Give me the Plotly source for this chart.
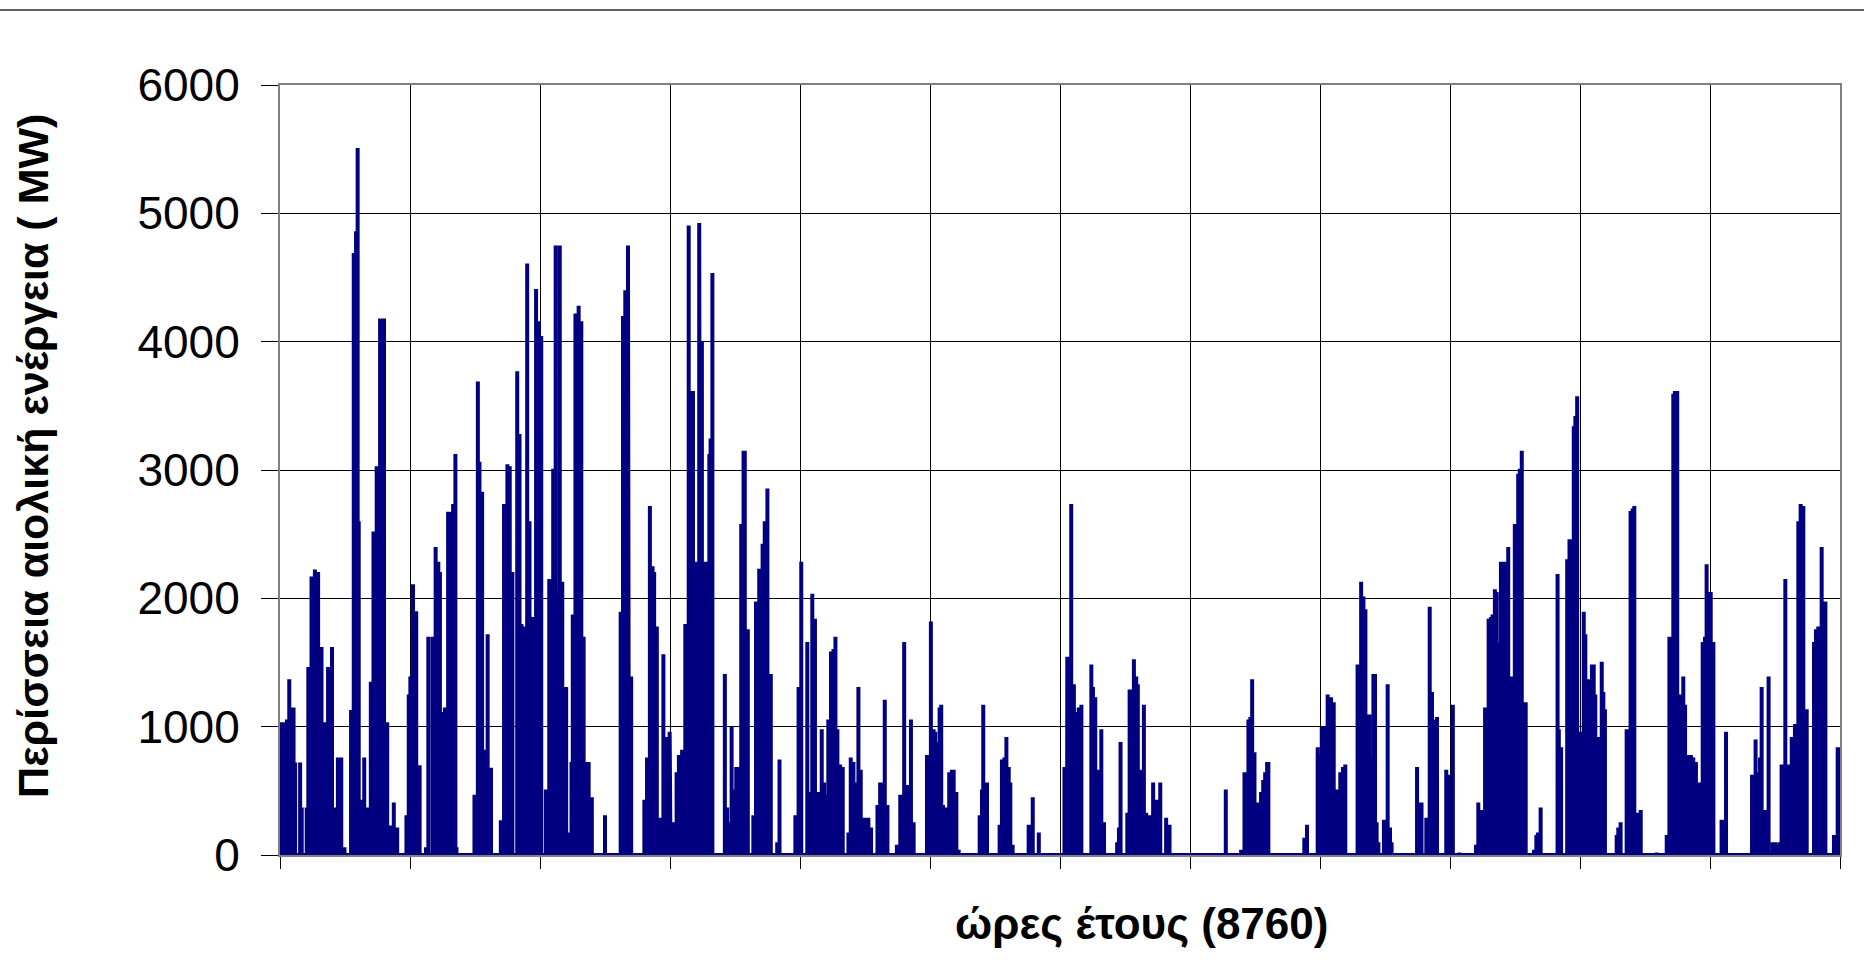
import plotly.graph_objects as go

# Hourly excess wind energy over the year (hour of year, MW), grouped by period.
readings_1 = [(0, 310), (11, 1035), (30, 1035), (39, 1055), (52, 1370), (67, 1150), (76, 1150), (85, 720),
              (113, 720), (122, 370), (150, 370), (159, 1465), (177, 2170), (196, 2225), (214, 2205), (233, 1620),
              (251, 1035), (270, 1465), (292, 1620), (307, 370), (325, 760), (344, 760), (362, 60), (399, 1130),
              (414, 4690), (427, 4860), (436, 5510), (442, 2600), (455, 430), (473, 760), (492, 370), (510, 1350),
              (525, 2520), (543, 3030), (562, 4180), (584, 4180), (602, 1035), (621, 230), (639, 410), (658, 215),
              (710, 310), (723, 1250), (732, 1390), (747, 2110), (765, 1900), (784, 700), (820, 60), (833, 1700),
              (857, 1700), (874, 2400), (889, 2285), (898, 2205), (907, 1115), (926, 1150), (944, 2675), (963, 2675),
              (972, 2735), (985, 3125), (991, 60), (1092, 470), (1111, 3690), (1120, 3065), (1135, 2830), (1148, 820),
              (1166, 1720), (1185, 680), (1240, 270), (1258, 2735), (1277, 3045), (1290, 3030), (1305, 2205),
              (1332, 3770), (1345, 3280), (1356, 1800), (1375, 1780), (1388, 4610), (1401, 2600), (1416, 1855),
              (1438, 4410), (1453, 4160), (1467, 4045)]

readings_2 = [(1493, 510), (1512, 2150), (1526, 510), (1534, 3010), (1548, 4750), (1558, 2035), (1571, 4750),
              (1585, 2130), (1595, 725), (1607, 1310), (1622, 175), (1637, 725), (1644, 1875), (1659, 4220),
              (1677, 4280), (1692, 4160), (1705, 1700), (1718, 725), (1733, 725), (1751, 450), (1825, 310),
              (1913, 1895), (1926, 4200), (1939, 4400), (1954, 4750), (1959, 115), (1972, 1390), (2046, 430),
              (2061, 760), (2077, 2720), (2092, 2250), (2101, 2205), (2116, 1780), (2129, 275), (2138, 290),
              (2153, 1565), (2166, 920), (2175, 665), (2188, 960), (2193, 255), (2212, 255), (2227, 645), (2240, 780),
              (2258, 820), (2276, 1800), (2295, 4905), (2304, 3615), (2319, 3615), (2341, 2285), (2354, 4925),
              (2359, 4650), (2369, 4000), (2378, 2285), (2393, 2285), (2405, 40), (2411, 3125), (2418, 3245),
              (2428, 4535), (2498, 1410), (2511, 370), (2525, 255), (2536, 1000), (2549, 510), (2562, 685),
              (2571, 685), (2590, 2580), (2603, 3150), (2610, 3150), (2617, 1760), (2627, 1760), (2658, 310),
              (2673, 1975), (2691, 2230), (2700, 2230), (2710, 2425), (2722, 2600), (2737, 2855), (2746, 1410),
              (2756, 1410), (2792, 100), (2805, 745), (2894, 310), (2912, 1310), (2927, 2285)]

readings_3 = [(2961, 1660), (2976, 490), (2989, 2035), (3004, 1840), (3018, 490), (3029, 490), (3042, 980),
              (3055, 565), (3066, 470), (3079, 1055), (3094, 1585), (3108, 1605), (3119, 1700), (3130, 980),
              (3145, 705), (3160, 685), (3192, 175), (3205, 760), (3220, 725), (3235, 565), (3248, 1310), (3261, 665),
              (3276, 290), (3291, 290), (3304, 290), (3319, 215), (3355, 390), (3370, 565), (3385, 565), (3396, 1210),
              (3411, 390), (3464, 80), (3483, 470), (3492, 470), (3505, 1660), (3520, 545), (3529, 545), (3543, 1055),
              (3558, 255), (3633, 780), (3642, 780), (3655, 1820), (3670, 980), (3679, 960), (3689, 880),
              (3704, 1150), (3713, 1170), (3723, 390), (3736, 370), (3745, 290), (3758, 645), (3773, 665),
              (3783, 665), (3798, 490), (3811, 40), (3929, 310), (3942, 510), (3949, 1170), (3961, 565), (3970, 565),
              (4041, 235), (4054, 745), (4068, 760), (4079, 920), (4092, 685), (4101, 565), (4114, 80), (4204, 235),
              (4214, 235), (4227, 450), (4261, 175), (4405, 685), (4420, 920)]

readings_4 = [(4421, 1545), (4434, 1350), (4443, 2735), (4458, 1330), (4471, 1115), (4485, 1150), (4500, 1170),
              (4556, 1485), (4565, 1310), (4578, 1230), (4589, 665), (4602, 665), (4612, 980), (4627, 255),
              (4701, 100), (4711, 215), (4720, 880), (4758, 330), (4771, 1290), (4784, 1290), (4795, 1525),
              (4808, 1390), (4817, 1330), (4830, 665), (4842, 665), (4851, 1170), (4864, 330), (4877, 310),
              (4892, 310), (4903, 565), (4915, 430), (4930, 430), (4943, 565), (4976, 290), (4995, 235), (5311, 510),
              (5397, 40), (5416, 645), (5425, 645), (5438, 1055), (5449, 1075), (5459, 1370), (5472, 800),
              (5491, 410), (5500, 410), (5509, 490), (5521, 585), (5532, 645), (5543, 725), (5550, 725), (5752, 135),
              (5767, 235), (5827, 840), (5837, 780), (5850, 1000), (5865, 1000), (5883, 1250), (5902, 1230),
              (5917, 1190)]

readings_5 = [(5939, 510), (5954, 645), (5969, 685), (5982, 705), (6051, 1485), (6062, 1485), (6071, 2130),
              (6084, 2015), (6095, 1915), (6106, 1095), (6117, 1095), (6131, 760), (6140, 1410), (6149, 1410),
              (6158, 255), (6168, 100), (6199, 275), (6210, 275), (6220, 1330), (6233, 215), (6242, 100), (6385, 685),
              (6400, 410), (6410, 410), (6437, 290), (6447, 290), (6456, 1935), (6469, 1270), (6484, 1055),
              (6497, 1075), (6549, 665), (6562, 625), (6586, 1170), (6623, 20), (6716, 80), (6729, 410), (6744, 350),
              (6754, 350), (6767, 1150), (6776, 1150), (6787, 1840), (6800, 1855), (6809, 1875), (6822, 2070),
              (6832, 2050), (6843, 1660), (6856, 2285), (6869, 2285), (6880, 2285), (6897, 2400), (6912, 1390),
              (6921, 1390), (6934, 2580), (6943, 2580), (6953, 2970), (6962, 3010), (6973, 3150), (6986, 1190),
              (6995, 1190), (7042, 40), (7055, 155), (7064, 175), (7079, 370), (7174, 2190), (7181, 980), (7194, 840),
              (7228, 2305), (7241, 2460), (7252, 2460), (7265, 3340), (7274, 3420), (7284, 3575), (7293, 960),
              (7306, 960), (7321, 1895), (7330, 1720), (7343, 1370), (7354, 1370), (7367, 1485), (7377, 1485),
              (7386, 1250), (7401, 920)]

readings_6 = [(7422, 1505), (7431, 1270), (7440, 1135), (7506, 155), (7515, 215), (7528, 255), (7562, 980),
              (7571, 980), (7584, 2680), (7596, 2700), (7605, 2720), (7618, 330), (7631, 330), (7641, 350), (7730, 20),
              (7787, 155), (7802, 1700), (7815, 1700), (7824, 3595), (7833, 3615), (7846, 3615), (7858, 1250),
              (7871, 1250), (7880, 1390), (7890, 1170), (7899, 780), (7912, 780), (7923, 780), (7936, 760),
              (7951, 725), (7964, 565), (7974, 565), (7989, 1660), (8002, 1700), (8011, 2265), (8021, 2050),
              (8034, 2050), (8049, 1660), (8095, 275), (8109, 275), (8120, 960), (8266, 625), (8277, 625), (8286, 900),
              (8301, 645), (8311, 760), (8320, 1310), (8333, 350), (8348, 350), (8359, 1390), (8382, 100), (8395, 100),
              (8408, 80), (8419, 100), (8432, 705), (8442, 705), (8453, 2150), (8464, 705), (8475, 705), (8489, 920),
              (8498, 920), (8507, 1020), (8517, 1020), (8526, 2600), (8539, 2735), (8554, 2720), (8563, 1135),
              (8573, 1135), (8614, 1660), (8625, 1760), (8638, 1780), (8648, 1425), (8657, 2400), (8666, 1975),
              (8678, 1975), (8726, 155), (8736, 155), (8747, 840), (8756, 840)]

hours_in_year = 8760
month_ticks = [0, 730, 1460, 2190, 2920, 3650, 4380, 5110, 5840, 6570, 7300, 8030, 8760]
mw_ticks = [0, 1000, 2000, 3000, 4000, 5000, 6000]

y_title = "Περίσσεια αιολική ενέργεια ( MW)"
x_title = "ώρες έτους (8760)"

FONT = "Liberation Sans, Arial, sans-serif"
NAVY = "#000080"
GREY = "#808080"

# Each reading is a spike rising from the zero baseline.
readings = readings_1 + readings_2 + readings_3 + readings_4 + readings_5 + readings_6
xs, ys = [0], [0]
for h, v in readings:
    xs += [h, h, h]
    ys += [0, v, 0]
xs.append(hours_in_year)
ys.append(0)

fig = go.Figure()
fig.add_trace(go.Scatter(x=xs, y=ys, mode="lines", line=dict(color=NAVY, width=4),
                         hoverinfo="skip", showlegend=False))

fig.update_layout(
    width=1864, height=960,
    margin=dict(l=280, r=24, t=85, b=105, pad=0),
    paper_bgcolor="white", plot_bgcolor="white",
    font=dict(family=FONT, color="black"),
    showlegend=False,
)

fig.update_xaxes(
    range=[0, hours_in_year], tickvals=month_ticks, showticklabels=False,
    ticks="outside", ticklen=12, tickcolor="black", tickwidth=1,
    showgrid=True, gridcolor="black", gridwidth=1,
    showline=True, linecolor=GREY, linewidth=2, mirror=True,
    zeroline=False, layer="below traces",
)
fig.update_yaxes(
    range=[0, 6000], tickvals=mw_ticks, ticktext=[str(t) for t in mw_ticks],
    ticks="outside", ticklen=17, tickcolor="black", tickwidth=1,
    tickfont=dict(family=FONT, size=46, color="black"), ticklabelstandoff=12,
    showgrid=True, gridcolor="black", gridwidth=1,
    showline=True, linecolor=GREY, linewidth=2, mirror=True,
    zeroline=False,
)

fig.add_annotation(
    text=y_title, textangle=-90, showarrow=False,
    xref="paper", yref="paper", x=-0.1585, y=0.518, xanchor="center", yanchor="middle",
    font=dict(family=FONT, size=43, color="black", weight="bold"),
)
fig.add_annotation(
    text=x_title, showarrow=False,
    xref="paper", yref="paper", x=0.552, y=-0.0896, xanchor="center", yanchor="middle",
    font=dict(family=FONT, size=44, color="black", weight="bold"),
)

# Frame line across the top of the figure
fig.add_shape(type="line", xref="paper", yref="paper", x0=-0.2, x1=1.05, y0=1.0974, y1=1.0974,
              line=dict(color="#606060", width=2))

fig.write_html("out.html")
